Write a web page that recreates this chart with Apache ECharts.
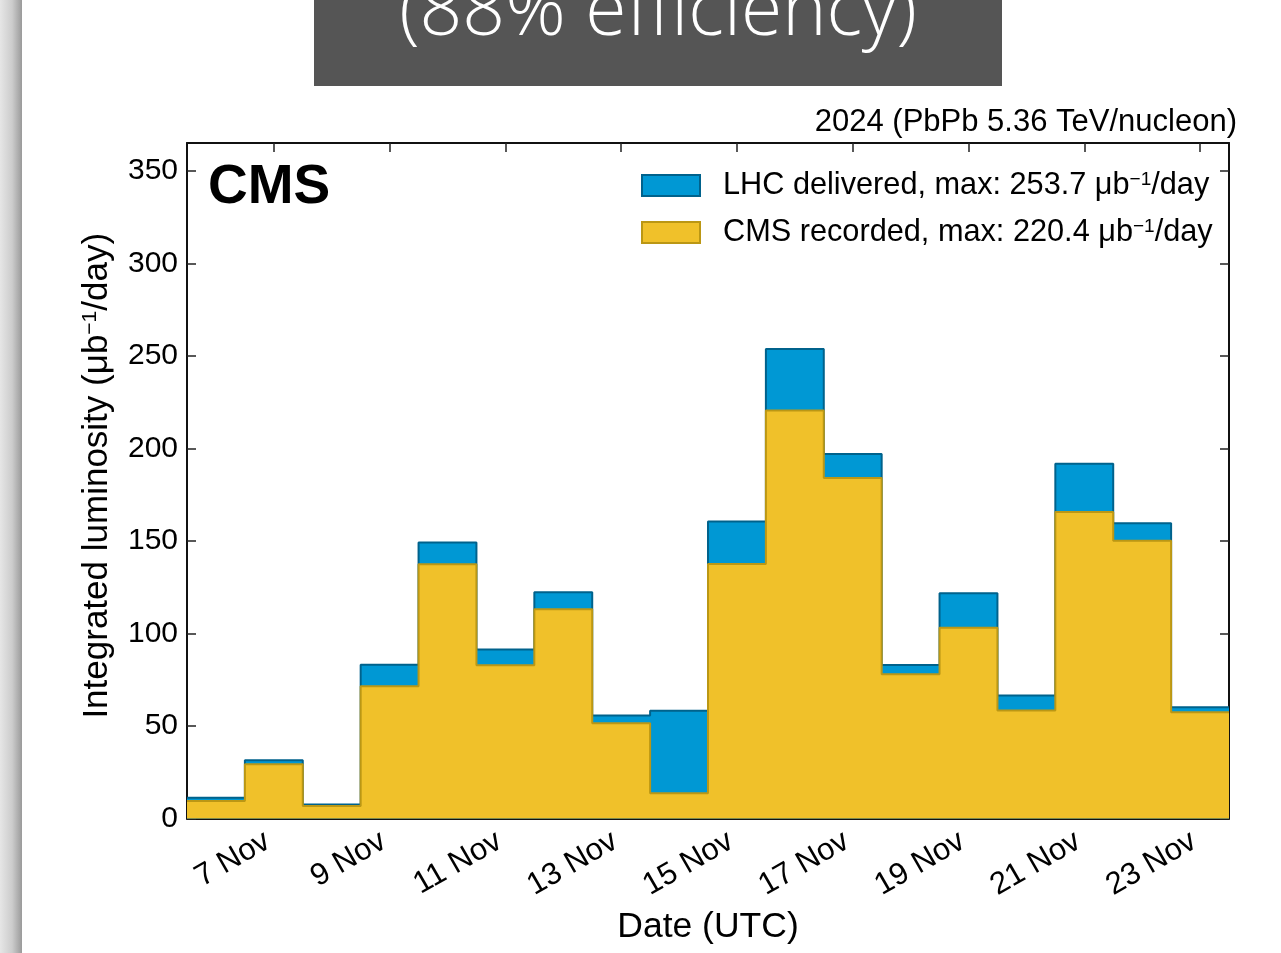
<!DOCTYPE html>
<html><head><meta charset="utf-8">
<script src="https://cdn.jsdelivr.net/npm/echarts@6/dist/echarts.min.js"></script>
<style>html,body{margin:0;padding:0;background:#fff;overflow:hidden}#c{width:1281px;height:953px;}</style>
</head><body><div id="c"></div>
<script>
// ---- data ----
const dayNumbers = [6,7,8,9,10,11,12,13,14,15,16,17,18,19,20,21,22,23];
const delivered = [11.2,31.5,7.6,83.1,149.2,91.3,122.2,55.6,58.2,160.5,253.7,197.0,83.0,121.7,66.4,191.7,159.5,60.1];
const recorded  = [9.5,29.3,6.8,71.5,137.4,82.8,113.1,51.4,13.6,137.5,220.4,184.0,77.9,103.1,58.3,165.6,150.1,57.4];
const tickDays = [7,9,11,13,15,17,19,21,23];
const tickLabels = ['7 Nov','9 Nov','11 Nov','13 Nov','15 Nov','17 Nov','19 Nov','21 Nov','23 Nov'];
const yTicks = [0,50,100,150,200,250,300,350];
const titleText = '(88% efficiency)';
const energyText = '2024 (PbPb 5.36 TeV/nucleon)';

const FONT = '"Liberation Sans", Arial, Helvetica, sans-serif';
const BLUE = '#0098d4', BLUE_EDGE = '#00628c';
const YEL = '#f0c12a', YEL_EDGE = '#bb9714';

function edges(arr){
  const pts = dayNumbers.map((d,i)=>[d-0.5, arr[i]]);
  pts.push([dayNumbers[dayNumbers.length-1]+0.5, arr[arr.length-1]]);
  return pts;
}
const delName = 'LHC delivered, max: ' + Math.max(...delivered).toFixed(1);
const recName = 'CMS recorded, max: ' + Math.max(...recorded).toFixed(1);

const supRich = {
  g: {width: 18},
  t: {fontSize: 30.7, fontFamily: FONT, color: '#000', lineHeight: 30},
  s: {fontSize: 19, fontFamily: FONT, color: '#000', lineHeight: 14, verticalAlign: 'top'}
};

const chart = echarts.init(document.getElementById('c'), null, {renderer: 'canvas'});
const axisLineStyle = {color: '#111', width: 2};
const tickStyle = {color: '#222', width: 1.5};

chart.setOption({
  animation: false,
  backgroundColor: '#fff',
  grid: {left: 187, top: 143, width: 1042, height: 675.5, containLabel: false},
  graphic: [
    {type: 'rect', left: 0, top: 0, shape: {width: 22, height: 953},
     style: {fill: new echarts.graphic.LinearGradient(0,0,1,0,[
       {offset:0,color:'#e6e6e6'},{offset:0.55,color:'#cccccc'},{offset:1,color:'#9a9a9a'}])}},
    {type: 'rect', left: 314, top: 0, shape: {width: 688, height: 86}, style: {fill: '#555555'}},
    {type: 'text', x: 658, y: 51, style: {text: titleText, fill: '#fff', font: '300 75px "Open Sans", Roboto, "Liberation Sans", sans-serif', textAlign: 'center', textVerticalAlign: 'bottom'}},
    {type: 'text', x: 1237, y: 122, style: {text: energyText, fill: '#000', font: '31px ' + FONT, textAlign: 'right', textVerticalAlign: 'middle'}},
    {type: 'text', x: 208, y: 188, z: 10, style: {text: 'CMS', fill: '#000', font: 'bold 55px ' + FONT, textAlign: 'left', textVerticalAlign: 'middle'}}
  ],
  legend: {
    orient: 'vertical', left: 641, top: 170, padding: 0, itemGap: 16,
    itemWidth: 58, itemHeight: 21,
    data: [
      {name: delName, icon: 'rect', itemStyle: {color: BLUE, borderColor: BLUE_EDGE, borderWidth: 2}},
      {name: recName, icon: 'rect', itemStyle: {color: YEL, borderColor: YEL_EDGE, borderWidth: 2}}
    ],
    formatter: n => '{g|}{t|' + n + ' μb}{s|−1}{t|/day}',
    textStyle: {fontSize: 30.7, fontFamily: FONT, color: '#000', rich: supRich}
  },
  xAxis: [
    {type: 'value', min: 5.5, max: 23.5, position: 'bottom',
     axisLine: {show: true, onZero: false, lineStyle: axisLineStyle},
     axisTick: {show: true, inside: true, length: 9, customValues: tickDays, lineStyle: tickStyle},
     axisLabel: {show: true, customValues: tickDays, formatter: v => tickLabels[tickDays.indexOf(v)],
       rotate: 30, margin: 17, padding: [0, 7, 0, 0], fontSize: 31, fontFamily: FONT, color: '#000'},
     splitLine: {show: false},
     name: 'Date (UTC)', nameLocation: 'middle', nameGap: 91,
     nameTextStyle: {fontSize: 35.5, fontFamily: FONT, color: '#000'}},
    {type: 'value', min: 5.5, max: 23.5, position: 'top',
     axisLine: {show: true, onZero: false, lineStyle: axisLineStyle},
     axisTick: {show: true, inside: true, length: 9, customValues: tickDays, lineStyle: tickStyle},
     axisLabel: {show: false}, splitLine: {show: false}}
  ],
  yAxis: [
    {type: 'value', min: 0, max: 365, position: 'left',
     axisLine: {show: true, onZero: false, lineStyle: axisLineStyle},
     axisTick: {show: true, inside: true, length: 9, customValues: yTicks, lineStyle: tickStyle},
     axisLabel: {show: true, customValues: yTicks, margin: 9, fontSize: 30, fontFamily: FONT, color: '#000'},
     splitLine: {show: false},
     name: '{t|Integrated luminosity (μb}{s|−1}{t|/day)}', nameLocation: 'middle', nameRotate: 90, nameGap: 72,
     nameTextStyle: {fontSize: 35, fontFamily: FONT, color: '#000', padding: [0, 0, 0, 10], rich: {
       t: {fontSize: 35, fontFamily: FONT, color: '#000', lineHeight: 35},
       s: {fontSize: 21, fontFamily: FONT, color: '#000', lineHeight: 16, verticalAlign: 'top'}}}},
    {type: 'value', min: 0, max: 365, position: 'right',
     axisLine: {show: true, onZero: false, lineStyle: axisLineStyle},
     axisTick: {show: true, inside: true, length: 9, customValues: yTicks, lineStyle: tickStyle},
     axisLabel: {show: false}, splitLine: {show: false}}
  ],
  series: [
    {name: delName, type: 'line', step: 'end', data: edges(delivered), xAxisIndex: 0, yAxisIndex: 0,
     symbol: 'none', z: 2, itemStyle: {color: BLUE},
     lineStyle: {color: BLUE_EDGE, width: 2}, areaStyle: {color: BLUE, opacity: 1}},
    {name: recName, type: 'line', step: 'end', data: edges(recorded), xAxisIndex: 0, yAxisIndex: 0,
     symbol: 'none', z: 3, itemStyle: {color: YEL},
     lineStyle: {color: YEL_EDGE, width: 2}, areaStyle: {color: YEL, opacity: 1}}
  ]
});
</script></body></html>
